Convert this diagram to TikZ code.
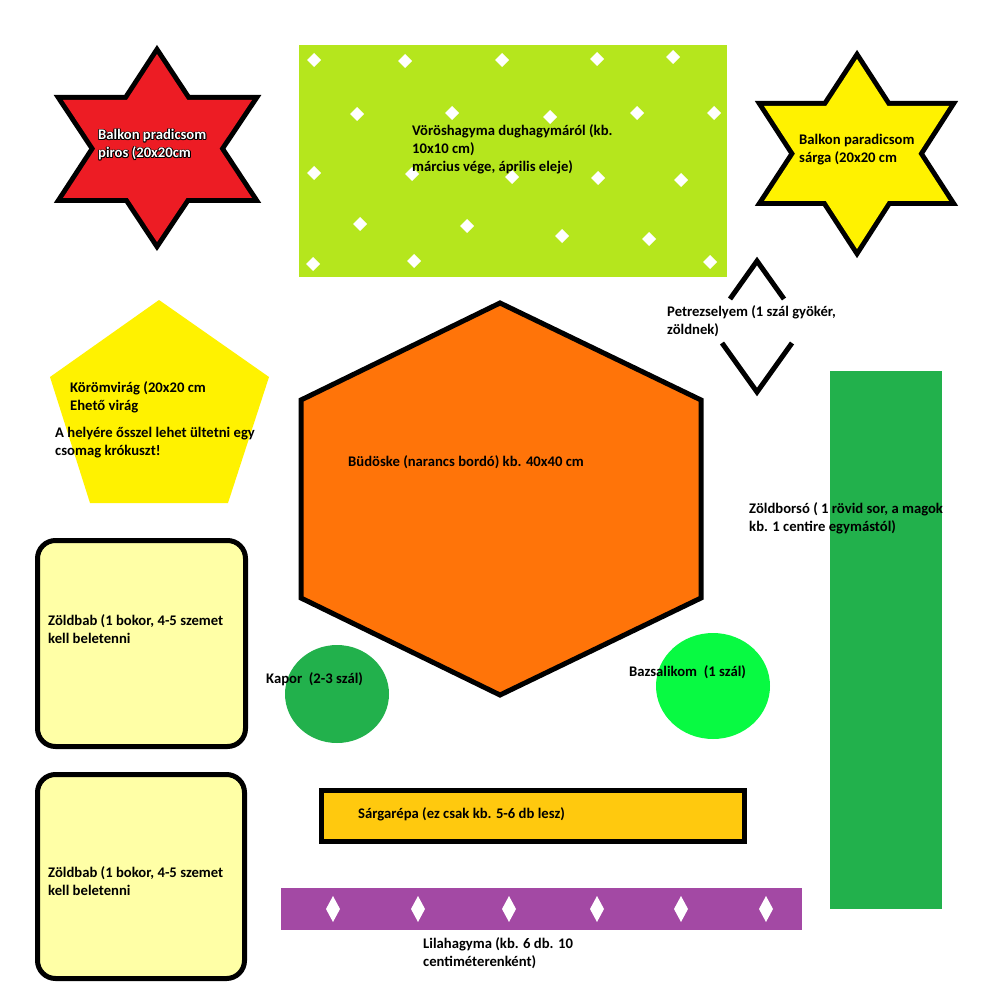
\documentclass[tikz,border=0pt]{standalone}
\usepackage{fontspec}
\setmainfont{Carlito}
\definecolor{pred}{RGB}{237,28,36}
\definecolor{pyellow}{RGB}{255,242,0}
\definecolor{plime}{RGB}{181,230,29}
\definecolor{porange}{RGB}{255,116,9}
\definecolor{pdgreen}{RGB}{34,177,76}
\definecolor{pbgreen}{RGB}{8,250,66}
\definecolor{ppale}{RGB}{255,255,166}
\definecolor{pgold}{RGB}{255,201,14}
\definecolor{ppurple}{RGB}{163,73,164}
\tikzset{
  lbl/.style={anchor=base west, inner sep=0pt, align=left, font=\fontsize{14.67}{18}\selectfont\bfseries, text=black},
  border/.style={draw=black, line width=5pt, line join=miter},
  wdia/.style={fill=white},
}
\begin{document}
\begin{tikzpicture}[x=1pt,y=-1pt]
\useasboundingbox[fill=white] (0,0) rectangle (1000,1000);

% red star
\draw[line width=10pt, line join=miter] (157,54) -- (63,198) -- (252,198) -- cycle;
\draw[line width=10pt, line join=miter] (157,242) -- (63,100) -- (252,100) -- cycle;
\fill[pred] (157,54) -- (63,198) -- (252,198) -- cycle;
\fill[pred] (157,242) -- (63,100) -- (252,100) -- cycle;

% yellow star
\draw[line width=10pt, line join=miter] (857,59) -- (764,201) -- (949,201) -- cycle;
\draw[line width=10pt, line join=miter] (857,249) -- (764,106) -- (949,106) -- cycle;
\fill[pyellow] (857,59) -- (764,201) -- (949,201) -- cycle;
\fill[pyellow] (857,249) -- (764,106) -- (949,106) -- cycle;

% lime rectangle with diamonds
\fill[plime] (299,45) rectangle (727,277);
\foreach \px/\py in {314/60,405/61,502/60,597/59,673/57,
                     357/114,452/113,550/117,637/113,714/113,
                     314/173,412/174,512/177,598/178,681/180,
                     360/224,467/226,562/236,649/239,
                     313/264,414/261,710/262}
  \fill[wdia] (\px,\py) +(-7,0) -- +(0,-7) -- +(7,0) -- +(0,7) -- cycle;

% pentagon
\fill[pyellow] (159,300) -- (269,377) -- (228,503) -- (90,503) -- (50,377) -- cycle;

% hexagon
\draw[border, fill=porange] (500,303) -- (701,400) -- (701,598) -- (500,695) -- (301,598) -- (301,400) -- cycle;

% petrezselyem chevrons
\draw[line width=5pt, line join=miter] (730,299) -- (757,261) -- (784,299);
\draw[line width=5pt, line join=miter] (722,343) -- (757,392) -- (792,343);

% green strip
\fill[pdgreen] (830,371) rectangle (942,909);

% rounded boxes
\draw[border, fill=ppale, rounded corners=18pt] (37.5,540.5) rectangle (245.5,746.5);
\draw[border, fill=ppale, rounded corners=18pt] (37.5,774.5) rectangle (244.5,978.5);

% circles
\fill[pdgreen] (337,694) ellipse [x radius=52, y radius=49];
\fill[pbgreen] (713,686) ellipse [x radius=57, y radius=53];

% carrot bar
\draw[border, fill=pgold] (321.5,790.5) rectangle (744.5,841.5);

% purple bar
\fill[ppurple] (281,888) rectangle (802,930);
\foreach \px in {333,418,509,597,681,766}
  \fill[wdia] (\px,909) +(-7,0) -- +(0,-13) -- +(7,0) -- +(0,13) -- cycle;

% texts (base anchor = baseline of the last line)
\foreach \dx/\dy [count=\k] in {-0.9/0,0.9/0,0/-0.9,0/0.9,-0.7/-0.7,0.7/0.7,-0.7/0.7,0.7/-0.7}
  \node[lbl, text=black] (rso\k) at (98+\dx,158+\dy) {Balkon pradicsom\\piros (20x20cm};
\node[lbl, text=white] (rs) at (98,158) {Balkon pradicsom\\piros (20x20cm};

\node[lbl] (vh) at (412,172) {Vöröshagyma dughagymáról (kb.\\10x10 cm)\\március vége, április eleje)};
\node[lbl] (ys) at (799,163) {Balkon paradicsom\\sárga (20x20 cm};
\node[lbl] (pz) at (667,334) {Petrezselyem (1 szál gyökér,\\zöldnek)};
\node[lbl] (kv) at (70,410) {Körömvirág (20x20 cm\\Ehető virág};
\node[lbl] (kr) at (55,455) {A helyére ősszel lehet ültetni egy\\csomag krókuszt!};
\node[lbl] (bd) at (348,466) {Büdöske (narancs bordó) kb. 40x40 cm};
\node[lbl] (zb) at (749,531) {Zöldborsó ( 1 rövid sor, a magok\\kb. 1 centire egymástól)};
\node[lbl] (zd1) at (48,643) {Zöldbab (1 bokor, 4-5 szemet\\kell beletenni};
\node[lbl] (zd2) at (48,895) {Zöldbab (1 bokor, 4-5 szemet\\kell beletenni};
\node[lbl] (kp) at (266,683) {Kapor\ \ (2-3 szál)};
\node[lbl] (bz) at (629,676) {Bazsalikom\ \ (1 szál)};
\node[lbl] (sr) at (358,818) {Sárgarépa (ez csak kb. 5-6 db lesz)};
\node[lbl] (lh) at (423,966) {Lilahagyma (kb. 6 db. 10\\centiméterenként)};
\end{tikzpicture}
\end{document}
